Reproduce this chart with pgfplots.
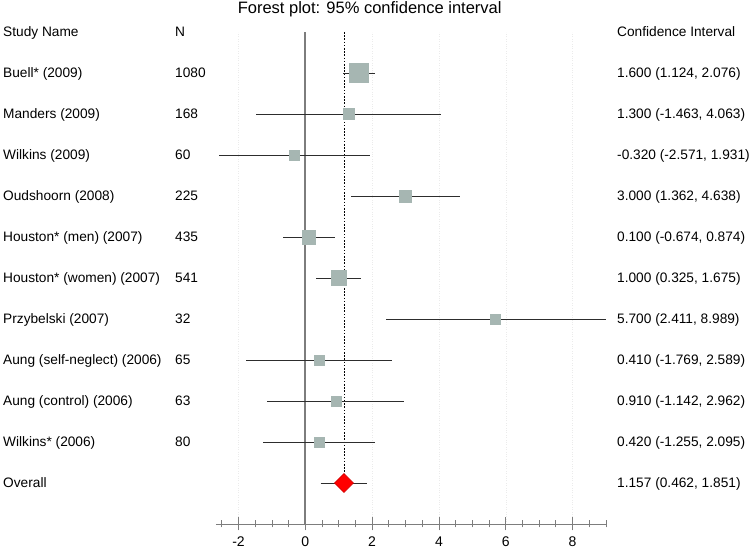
\documentclass[border=0pt]{standalone}
\usepackage{pgfplots}
\pgfplotsset{compat=1.18}
\usepackage{pgfplotstable}
\usepackage{fontspec}
\setmainfont{Liberation Sans}
\definecolor{boxc}{RGB}{166,182,178}
\definecolor{axc}{RGB}{125,125,125}
\definecolor{cil}{RGB}{45,45,45}

% row = vertical position (11 = top study), est/lo/hi = estimate and 95% CI, sz = half side of box
\pgfplotstableread{
row est lo hi sz
11 1.600 1.124 2.076 9.5
10 1.300 -1.463 4.063 5.5
9 -0.320 -2.571 1.931 5.0
8 3.000 1.362 4.638 6.0
7 0.100 -0.674 0.874 6.8
6 1.000 0.325 1.675 7.5
5 5.700 2.411 8.989 5.0
4 0.410 -1.769 2.589 5.0
3 0.910 -1.142 2.962 5.0
2 0.420 -1.255 2.095 5.0
}\studies

\newcommand{\tf}{\fontsize{13.7}{16}\selectfont}
\newcommand{\rowtext}[4]{%
  \node[anchor=base west, font=\tf, inner sep=0pt] at (axis cs:-9.051,#1-0.12) {#2};
  \node[anchor=base west, font=\tf, inner sep=0pt] at (axis cs:-3.901,#1-0.12) {#3};
  \node[anchor=base west, font=\tf, inner sep=0pt] at (axis cs:9.332,#1-0.12) {#4};}

\begin{document}
\begin{tikzpicture}
\path[use as bounding box] (-215.8pt,-27pt) rectangle (534.2pt,524pt);
\begin{axis}[
  at={(0pt,0pt)}, anchor=south west,
  scale only axis, width=391.45pt, height=492pt,
  xmin=-2.68, xmax=9.04, ymin=0, ymax=12,
  axis x line*=bottom, axis y line=none,
  axis line style={axc, line width=0.8pt},
  xtick={-2,0,2,4,6,8}, xticklabels={-2,0,2,4,6,8},
  minor xtick={-2.5,-2,...,9},
  tick align=center, major tick length=13pt, minor tick length=7pt,
  every tick/.style={axc, line width=0.8pt},
  xticklabel style={font=\fontsize{14}{16}\selectfont, text=black, inner sep=0pt, yshift=-6pt},
  xmajorgrids, major grid style={black!8, dotted},
  clip=false,
]
% zero line
\addplot[axc, line width=1.8pt] coordinates {(0,0) (0,12)};
% overall estimate reference
\addplot[black, line width=0.8pt, dash pattern=on 1.6pt off 1.6pt] coordinates {(1.157,12) (1.157,1)};
% boxes
\addplot[scatter, only marks, mark=square*,
  scatter/use mapped color={draw=boxc, fill=boxc},
  visualization depends on={\thisrow{sz} \as \sz},
  scatter/@pre marker code/.append style={/tikz/mark size=\sz pt}]
  table[x=est, y=row] {\studies};
% confidence intervals
\addplot[draw=none, mark=none,
  error bars/.cd, x dir=both, x explicit, error mark=none,
  error bar style={cil, line width=0.9pt}]
  table[x=est, y=row,
        x error plus expr=\thisrow{hi}-\thisrow{est},
        x error minus expr=\thisrow{est}-\thisrow{lo}] {\studies};
% overall
\addplot[cil, line width=0.9pt] coordinates {(0.462,1) (1.851,1)};
\addplot[only marks, mark=square*, mark size=6.7pt,
  mark options={rotate=45, fill=red, draw=red!80!black, line width=0.5pt}]
  coordinates {(1.157,1)};

% title
\node[anchor=base, font=\fontsize{16.5}{18}\selectfont] at (axis cs:1.928,12.44) {Forest plot: 95\% confidence interval};
% header
\rowtext{12}{Study Name}{N}{Confidence Interval}
\rowtext{11}{Buell* (2009)}{1080}{1.600 (1.124, 2.076)}
\rowtext{10}{Manders (2009)}{168}{1.300 (-1.463, 4.063)}
\rowtext{9}{Wilkins (2009)}{60}{-0.320 (-2.571, 1.931)}
\rowtext{8}{Oudshoorn (2008)}{225}{3.000 (1.362, 4.638)}
\rowtext{7}{Houston* (men) (2007)}{435}{0.100 (-0.674, 0.874)}
\rowtext{6}{Houston* (women) (2007)}{541}{1.000 (0.325, 1.675)}
\rowtext{5}{Przybelski (2007)}{32}{5.700 (2.411, 8.989)}
\rowtext{4}{Aung (self-neglect) (2006)}{65}{0.410 (-1.769, 2.589)}
\rowtext{3}{Aung (control) (2006)}{63}{0.910 (-1.142, 2.962)}
\rowtext{2}{Wilkins* (2006)}{80}{0.420 (-1.255, 2.095)}
\rowtext{1}{Overall}{}{1.157 (0.462, 1.851)}
\end{axis}
\end{tikzpicture}
\end{document}
